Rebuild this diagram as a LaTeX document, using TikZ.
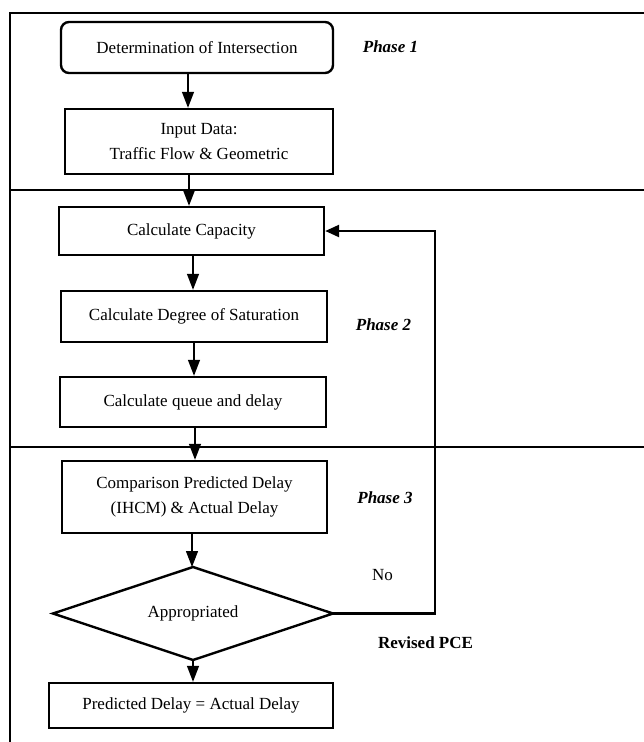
\documentclass[tikz,border=0pt]{standalone}
\usepackage{fontspec}
\setmainfont{Liberation Serif}
\usetikzlibrary{shapes.geometric,arrows.meta}
\begin{document}
\begin{tikzpicture}[x=1pt,y=-1pt,
  every node/.style={font=\fontsize{17}{25}\selectfont, align=center},
  box/.style={draw, line width=2.4pt, inner sep=0pt},
  arr/.style={line width=1.3pt, -{Triangle[width=12pt,length=16pt]}},
  loopline/.style={line width=2.4pt, -{Triangle[width=12pt,length=14pt]}},
  frame/.style={line width=1.6pt},
  divider/.style={line width=1.1pt},
  phase/.style={font=\fontsize{17}{20}\selectfont\bfseries\itshape}]
\useasboundingbox (0,0) rectangle (644,742);
% frame and dividers
\draw[frame] (10,742) -- (10,13) -- (644,13);
\draw[divider] (10,190) -- (644,190);
\draw[divider] (10,447) -- (644,447);
% boxes
\node[box, rounded corners=8pt, minimum width=272pt, minimum height=51pt] (b1) at (197,47.5) {Determination of Intersection};
\node[box, minimum width=268pt, minimum height=65pt] (b2) at (199,141.5) {Input Data:\\Traffic Flow \& Geometric};
\node[box, minimum width=265pt, minimum height=48pt] (b3) at (191.5,231) {Calculate Capacity};
\node[box, minimum width=266pt, minimum height=51pt] (b4) at (194,316.5) {Calculate Degree of Saturation};
\node[box, minimum width=266pt, minimum height=50pt] (b5) at (193,402) {Calculate queue and delay};
\node[box, minimum width=265pt, minimum height=72pt] (b6) at (194.5,497) {Comparison Predicted Delay\\(IHCM) \& Actual Delay};
\node[box, shape=diamond, aspect=3, minimum width=280pt, minimum height=93pt, outer sep=0pt] (d) at (193,613.5) {Appropriated};
\node[box, minimum width=284pt, minimum height=45pt] (b7) at (191,705.5) {Predicted Delay = Actual Delay};
% labels
\node[phase] (p1) at (390.5,47) {Phase 1};
\node[phase] (p2) at (383.5,325) {Phase 2};
\node[phase] (p3) at (385,498) {Phase 3};
\node (no) at (382.5,575) {No};
\node[font=\fontsize{17}{20}\selectfont\bfseries] (rp) at (425.5,643) {Revised PCE};
% arrow x positions
\coordinate (x1) at (188,0);
\coordinate (x2) at (189,0);
\coordinate (x3) at (193,0);
\coordinate (x4) at (194,0);
\coordinate (x5) at (195,0);
\coordinate (x6) at (192,0);
\coordinate (x7) at (193,0);
\draw[arr] (x1 |- b1.south) -- (x1 |- b2.north);
\draw[arr] (x2 |- b2.south) -- (x2 |- b3.north);
\draw[arr] (x3 |- b3.south) -- (x3 |- b4.north);
\draw[arr] (x4 |- b4.south) -- (x4 |- b5.north);
\draw[arr] (x5 |- b5.south) -- (x5 |- b6.north);
\draw[arr] (x6 |- b6.south) -- (x6 |- d.north);
\draw[arr] (x7 |- d.south) -- (x7 |- b7.north);
% feedback loop
\coordinate (lp) at (435,231);
\draw[loopline] (d.east) -| (lp) -- (b3.east);
\end{tikzpicture}
\end{document}
